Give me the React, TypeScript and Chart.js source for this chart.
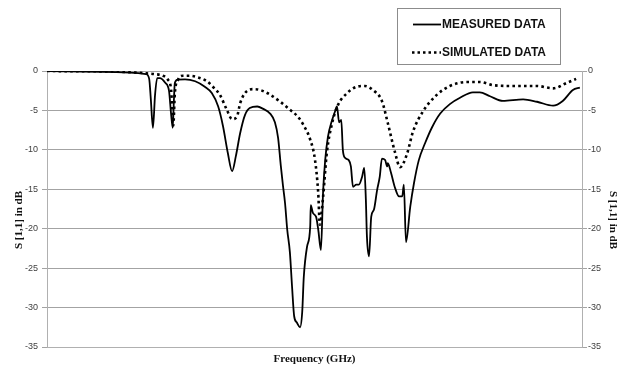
import React, { useEffect, useRef } from "react";
import { Chart, registerables } from "chart.js";

Chart.register(...registerables);

// Frequency positions are given as percent of the plotted span (no tick labels on the axis)
const measuredFreq = [
  0, 9.9, 15.5, 18.5, 19.1, 19.4, 19.8, 20.2, 20.6, 21.1, 22.1, 22.8, 23.2, 23.5, 23.7, 23.9,
  24.5, 25.8, 27.7, 29.5, 30.8, 32.0, 32.9, 33.8, 34.6, 35.3, 36.1, 37.0, 37.9, 39.3, 40.4,
  41.7, 42.6, 43.2, 43.7, 44.1, 44.5, 44.9, 45.4, 45.8, 46.2, 46.7, 47.3, 47.7, 48.0, 48.6,
  49.2, 49.3, 49.7, 50.3, 50.7, 51.2, 51.6, 52.0, 52.5, 53.3, 53.8, 54.2, 54.6, 55.0, 55.3,
  55.7, 56.4, 56.8, 57.2, 57.8, 58.3, 58.9, 59.3, 59.6, 59.8, 60.2, 60.6, 61.1, 61.7, 62.2,
  62.6, 63.2, 63.6, 63.7, 64.3, 65.0, 65.8, 66.4, 66.7, 67.1, 67.9, 68.6, 69.5, 70.7, 72.0,
  73.5, 75.3, 77.2, 79.6, 80.9, 82.8, 85.2, 89.0, 91.6, 94.6, 96.4, 98.3, 99.6,
];
const measuredS11 = [
  0, -0.1, -0.2, -0.4, -1.0, -3.5, -7.2, -3.0, -0.9, -0.9, -1.5, -2.5, -5.5, -7.2, -4.0, -1.5,
  -1.1, -1.05, -1.3, -2.0, -2.8, -4.5, -7.0, -10.4, -12.7, -10.8, -7.9, -5.6, -4.7, -4.5, -4.8,
  -5.4, -6.5, -8.5, -12.0, -14.5, -16.8, -20.1, -23.0, -27.3, -31.1, -31.9, -32.5, -30.6, -26.1, -22.3,
  -19.7, -17.0, -18.0, -18.5, -20.1, -22.7, -15.4, -11.3, -8.4, -6.2, -5.2, -4.5, -6.5, -6.2, -10.0,
  -11.0, -11.3, -12.1, -14.7, -14.4, -14.4, -13.4, -12.3, -16.3, -21.0, -23.5, -18.5, -17.6, -15.1, -13.4,
  -11.1, -11.3, -12.1, -11.7, -12.9, -14.7, -15.9, -15.9, -14.4, -21.7, -17.2, -14.2, -11.3, -9.1, -7.1,
  -5.4, -4.2, -3.4, -2.7, -2.7, -3.2, -3.8, -3.6, -3.9, -4.4, -3.8, -2.4, -2.1,
];

const simulatedFreq = [
  0, 13.6, 18.7, 20.2, 21.7, 22.6, 23.2, 23.6, 23.9, 24.5, 25.4, 26.7, 28.2, 29.9, 31.0, 32.3,
  33.6, 34.6, 35.5, 36.1, 37.0, 38.5, 39.8, 41.7, 43.6, 45.4, 46.9, 47.9, 49.2, 50.1, 50.7,
  51.0, 51.6, 52.3, 53.3, 54.4, 56.1, 57.9, 59.4, 60.9, 62.6, 63.7, 65.0, 66.0, 67.3, 68.4,
  70.3, 72.9, 75.3, 78.5, 80.9, 83.4, 87.1, 91.6, 94.6, 97.2, 98.9,
];
const simulatedS11 = [
  0, -0.1, -0.3, -0.4, -0.6, -1.1, -2.4, -6.9, -2.8, -1.1, -0.6, -0.6, -0.8, -1.3, -2.0, -3.0,
  -4.9, -6.1, -5.8, -4.1, -2.8, -2.3, -2.4, -3.0, -3.9, -4.9, -5.8, -6.8, -8.7, -11.3, -15.5,
  -19.5, -16.0, -10.4, -6.6, -4.3, -2.8, -2.0, -1.9, -2.4, -3.8, -6.6, -10.2, -12.2, -10.5, -7.7,
  -5.1, -3.0, -1.9, -1.4, -1.4, -1.8, -1.9, -1.9, -2.2, -1.5, -1.0,
];

const yTicks = [0, -5, -10, -15, -20, -25, -30, -35];
const seriesNames = ["MEASURED DATA", "SIMULATED DATA"];
const xTitle = "Frequency (GHz)";
const yTitle = "S [1,1] in dB";

const GRID = "#a3a3a3";
const AXIS = "#b0b0b0";
const TICKTXT = "#404040";

const overlayPlugin = {
  id: "overlay",
  afterDraw(chart: any) {
    const ctx = chart.ctx as CanvasRenderingContext2D;
    const area = chart.chartArea;
    ctx.save();
    // Legend box
    ctx.strokeStyle = "#8c8c8c";
    ctx.lineWidth = 1;
    ctx.strokeRect(397.5, 8.5, 163, 56);
    ctx.fillStyle = "#111";
    ctx.font = "bold 12px 'Liberation Sans', Arial, sans-serif";
    ctx.textBaseline = "middle";
    ctx.textAlign = "left";
    // measured sample
    ctx.strokeStyle = "#000";
    ctx.lineWidth = 1.8;
    ctx.beginPath();
    ctx.moveTo(413, 24.5);
    ctx.lineTo(441, 24.5);
    ctx.stroke();
    ctx.fillText(seriesNames[0], 442, 25);
    // simulated sample
    ctx.lineWidth = 2.5;
    ctx.setLineDash([2.5, 3]);
    ctx.beginPath();
    ctx.moveTo(412, 52.5);
    ctx.lineTo(441, 52.5);
    ctx.stroke();
    ctx.setLineDash([]);
    ctx.fillText(seriesNames[1], 442, 53);

    // Axis titles
    ctx.font = "bold 11px 'Liberation Serif', 'Times New Roman', serif";
    ctx.fillStyle = "#111";
    ctx.textAlign = "center";
    ctx.textBaseline = "middle";
    ctx.fillText(xTitle, (area.left + area.right) / 2, 359);
    const cy = 220;
    ctx.save();
    ctx.translate(19, cy);
    ctx.rotate(-Math.PI / 2);
    ctx.fillText(yTitle, 0, 0);
    ctx.restore();
    ctx.save();
    ctx.translate(613, cy);
    ctx.rotate(Math.PI / 2);
    ctx.fillText(yTitle, 0, 0);
    ctx.restore();
    ctx.restore();
  },
};

export default function App() {
  const ref = useRef<HTMLCanvasElement | null>(null);
  useEffect(() => {
    if (!ref.current) return;
    const measured = measuredFreq.map((f, i) => ({ x: f, y: measuredS11[i] }));
    const simulated = simulatedFreq.map((f, i) => ({ x: f, y: simulatedS11[i] }));
    const setTicks = (scale: any) => {
      scale.ticks = yTicks.map((v) => ({ value: v }));
    };
    const chart = new Chart(ref.current, {
      type: "line",
      data: {
        datasets: [
          {
            label: seriesNames[0],
            data: measured,
            borderColor: "#000",
            borderWidth: 1.8,
            pointRadius: 0,
            fill: false,
            cubicInterpolationMode: "monotone",
            yAxisID: "y",
          },
          {
            label: seriesNames[1],
            data: simulated,
            borderColor: "#000",
            borderWidth: 2.6,
            borderDash: [2.6, 3.2],
            pointRadius: 0,
            fill: false,
            cubicInterpolationMode: "monotone",
            yAxisID: "y",
          },
        ],
      },
      options: {
        animation: false,
        responsive: false,
        devicePixelRatio: 1,
        layout: { padding: { top: 71, left: 0, right: 0, bottom: 0 } },
        plugins: { legend: { display: false }, tooltip: { enabled: false } },
        scales: {
          x: {
            type: "linear",
            min: 0,
            max: 100,
            grid: { display: false },
            border: { display: true, color: AXIS },
            ticks: { display: false },
            afterFit: (s: any) => {
              s.height = 25;
            },
          },
          y: {
            type: "linear",
            position: "left",
            min: -35,
            max: 0,
            afterBuildTicks: setTicks,
            grid: { color: GRID, tickLength: 5, lineWidth: 1 },
            border: { display: true, color: AXIS },
            ticks: {
              padding: 4,
              color: TICKTXT,
              font: { size: 9, family: "'Liberation Sans', Arial, sans-serif" },
            },
            afterFit: (s: any) => {
              s.width = 47;
            },
          },
          y2: {
            type: "linear",
            position: "right",
            min: -35,
            max: 0,
            afterBuildTicks: setTicks,
            grid: { drawOnChartArea: false, color: GRID, tickLength: 5 },
            border: { display: true, color: AXIS },
            ticks: {
              padding: 1,
              color: TICKTXT,
              font: { size: 9, family: "'Liberation Sans', Arial, sans-serif" },
            },
            afterFit: (s: any) => {
              s.width = 45;
            },
          },
        },
      },
      plugins: [overlayPlugin],
    });
    return () => chart.destroy();
  }, []);
  return (
    <div style={{ position: "fixed", left: 0, top: 0, width: 627, height: 372, background: "#fff" }}>
      <canvas ref={ref} width={627} height={372} />
    </div>
  );
}
